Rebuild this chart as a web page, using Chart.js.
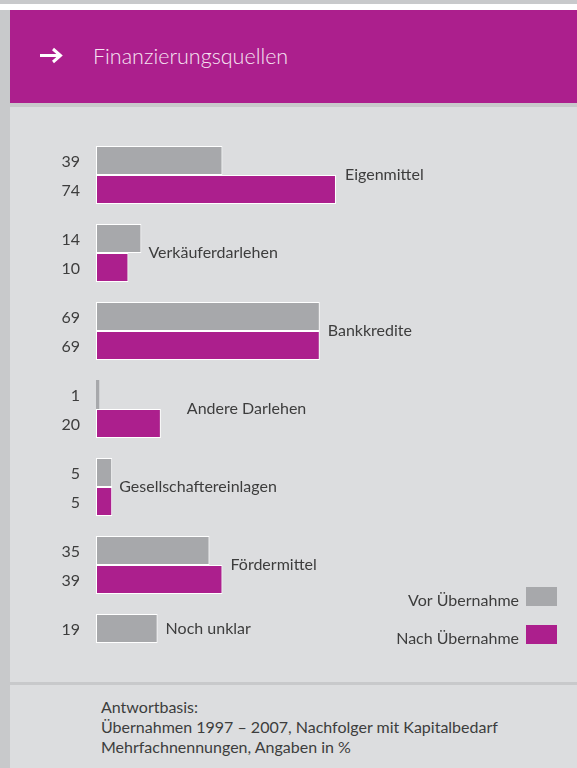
<!DOCTYPE html>
<html><head><meta charset="utf-8">
<script src="https://cdn.jsdelivr.net/npm/chart.js@4"></script>
<style>
html,body{margin:0;padding:0;width:577px;height:768px;overflow:hidden;background:#dcdddf;font-family:Lato,sans-serif;}
#topstrip{position:absolute;left:0;top:0;width:577px;height:4px;background:#c8c9cb;}
#white{position:absolute;left:0;top:4px;width:577px;height:6px;background:#ffffff;}
#leftstrip{position:absolute;left:0;top:10px;width:10px;height:758px;background:#c8c9cb;}
#header{position:absolute;left:10px;top:10px;width:567px;height:93px;background:#ac1f8d;}
#hline{position:absolute;left:10px;top:103px;width:567px;height:4px;background:#c8c9cb;}
#title{position:absolute;left:93px;top:41px;color:#f6e4f2;font-family:Lato,sans-serif;font-weight:300;font-size:21.5px;line-height:30px;white-space:nowrap;}
#arrow{position:absolute;left:38px;top:46px;}
#fline{position:absolute;left:10px;top:682px;width:567px;height:3px;background:#c8c9cb;}
#footer{position:absolute;left:101px;top:697px;color:#3d3d3d;font-size:16px;line-height:20px;white-space:nowrap;}
canvas{position:absolute;left:0;top:0;}
</style></head>
<body>
<div id="topstrip"></div><div id="white"></div><div id="leftstrip"></div>
<div id="header"></div><div id="hline"></div>
<svg id="arrow" width="28" height="20" viewBox="0 0 28 20"><path d="M2 9.5 H22 M15 3 L22.5 9.5 L15 16" stroke="#ffffff" stroke-width="3" fill="none" stroke-linecap="butt" stroke-linejoin="miter"/></svg>
<div id="title">Finanzierungsquellen</div>
<div id="fline"></div>
<div id="footer">Antwortbasis:<br>Übernahmen 1997 – 2007, Nachfolger mit Kapitalbedarf<br>Mehrfachnennungen, Angaben in %</div>
<canvas id="c" width="577" height="768"></canvas>
<script>
const categories = ['Eigenmittel','Verkäuferdarlehen','Bankkredite','Andere Darlehen','Gesellschaftereinlagen','Fördermittel','Noch unklar'];
const vorValues = [39,14,69,1,5,35,19];
const nachValues = [74,10,69,20,5,39,null];
const seriesNames = ['Vor Übernahme','Nach Übernahme'];

const GRAY = '#a7a8ab', MAGENTA = '#ac1f8d', TEXT = '#3d3d3d';
const FONT = '16px Lato, sans-serif';

const labelPlugin = {
  id: 'labelPlugin',
  afterDatasetsDraw(chart, args, opts) {
    const ctx = chart.ctx;
    ctx.save();
    ctx.font = FONT;
    ctx.fillStyle = TEXT;
    ctx.textAlign = 'right';
    ctx.textBaseline = 'middle';
    chart.data.datasets.forEach((ds, di) => {
      const meta = chart.getDatasetMeta(di);
      meta.data.forEach((bar, i) => {
        if (ds.data[i] == null) return;
        ctx.fillText(String(ds.data[i]), opts.valueX, bar.y + 1);
      });
    });
    ctx.textAlign = 'left';
    chart.data.labels.forEach((lab, i) => {
      let maxX = -Infinity, ys = [];
      chart.data.datasets.forEach((ds, di) => {
        if (ds.data[i] == null) return;
        const bar = chart.getDatasetMeta(di).data[i];
        maxX = Math.max(maxX, bar.x);
        ys.push(bar.y);
      });
      const y = ys.reduce((a,b)=>a+b,0)/ys.length;
      ctx.fillText(lab, maxX + opts.gaps[i], y);
    });
    ctx.textAlign = 'right';
    ctx.textBaseline = 'alphabetic';
    chart.data.datasets.forEach((ds, di) => {
      const top = opts.legendTop + di * opts.legendStep;
      ctx.fillStyle = ds.backgroundColor;
      ctx.fillRect(opts.legendX, top, 31, 19);
      ctx.fillStyle = TEXT;
      ctx.fillText(ds.label, opts.legendX - 7, top + 19);
    });
    ctx.restore();
  }
};

new Chart(document.getElementById('c'), {
  type: 'bar',
  data: {
    labels: categories,
    datasets: [
      { label: seriesNames[0], data: vorValues, backgroundColor: GRAY, borderColor: '#ffffff',
        borderWidth: c => (c.raw != null && c.raw < 3) ? 0 : 1, borderSkipped: false },
      { label: seriesNames[1], data: nachValues, backgroundColor: MAGENTA, borderColor: '#ffffff',
        borderWidth: c => (c.raw != null && c.raw < 3) ? 0 : 1, borderSkipped: false }
    ]
  },
  options: {
    indexAxis: 'y',
    responsive: false,
    animation: false,
    devicePixelRatio: 1,
    categoryPercentage: 58/78,
    barPercentage: 1,
    layout: { padding: { left: 96, right: 27, top: 136, bottom: 86 } },
    scales: {
      x: { display: false, min: 0, max: 140 },
      y: { display: false }
    },
    plugins: {
      legend: { display: false },
      tooltip: { enabled: false },
      labelPlugin: { valueX: 80, gaps: [9,7,8,26,7,8,8], legendX: 526, legendTop: 587, legendStep: 38 }
    }
  },
  plugins: [labelPlugin]
});
</script>
</body></html>
